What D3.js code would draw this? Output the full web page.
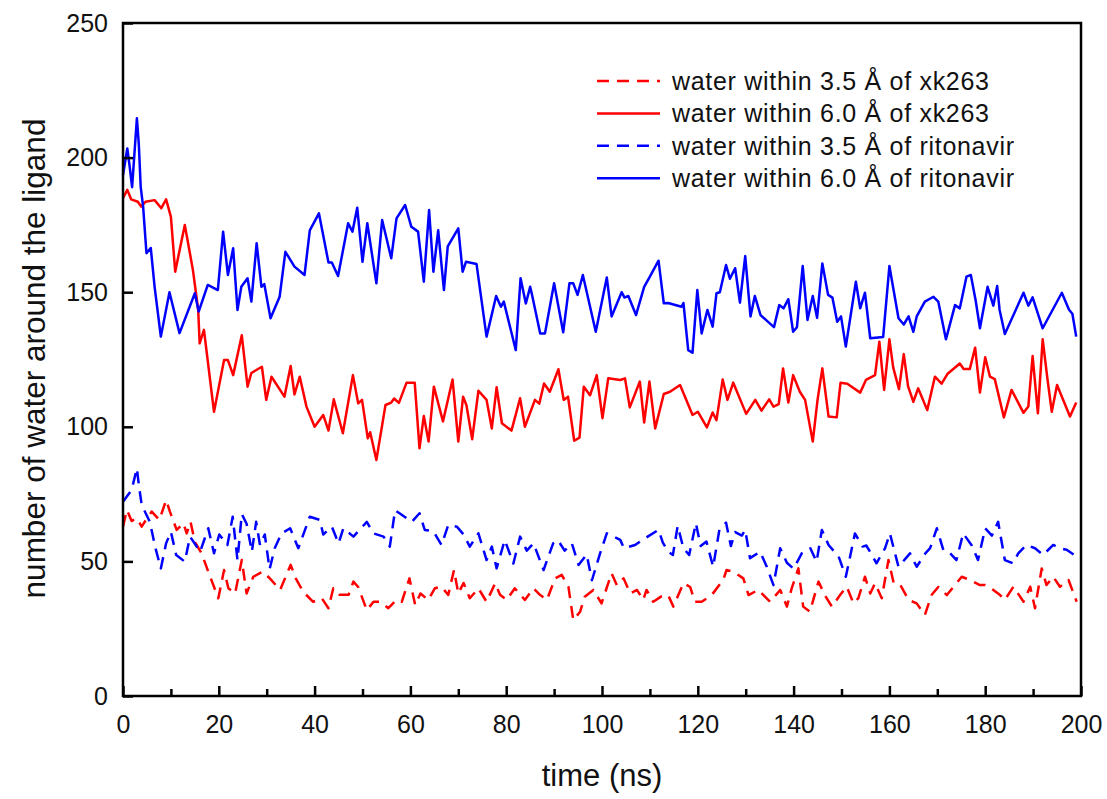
<!DOCTYPE html>
<html>
<head>
<meta charset="utf-8">
<script src="https://cdn.jsdelivr.net/npm/d3@7"></script>
<style>
  html, body { margin: 0; padding: 0; background: #fff; }
  svg { display: block; }
  text { font-family: "Liberation Sans", Arial, sans-serif; fill: #111; }
</style>
</head>
<body>
<svg id="chart" width="1107" height="799"></svg>
<script>
// ---------- data ----------
const xTicks = [0, 20, 40, 60, 80, 100, 120, 140, 160, 180, 200];
const xMinorTicks = [10, 30, 50, 70, 90, 110, 130, 150, 170, 190];
const yTicks = [0, 50, 100, 150, 200, 250];

const seriesNames = [
  "water within 3.5 Å of xk263",
  "water within 6.0 Å of xk263",
  "water within 3.5 Å of ritonavir",
  "water within 6.0 Å of ritonavir"
];

// xk263, 3.5 Å (red dashed)
const xk35Time = [0,0.8,1.8,2.9,3.9,5,6,7.6,9,9.8,11.2,12.6,13.3,14.1,15,16.4,18.2,19.9,21.1,22,23.4,24.8,25.8,27.2,29.2,30.7,32.8,35,36.1,37.6,39.7,41.5,42.9,43.9,45.2,47.1,48.1,49.1,50.9,52.3,53.7,55.4,57.1,58.2,59.8,61,62.1,63.7,65.1,66.5,67.9,69.1,70,71.1,72.4,74.2,75.9,77.7,78.7,80.1,81.8,83.9,85.7,87.1,88.5,90.2,91.6,93,94,95.4,96.4,98.2,99.9,102,103.1,104.5,105.9,107.3,108.6,109.3,110.7,112.4,113.8,114.9,117,118.4,119.4,120.8,122.9,125.3,126,127.4,129.5,130.6,132.6,135.1,137.2,138.6,139.6,141,142,143.4,145.2,146.5,148,149.7,151.1,152.5,153.5,154.9,156,157,158.4,159.8,160.9,162.3,164,165.7,167.4,168.8,170.2,172,173.4,175.1,176.8,178.9,180,181.7,183.1,184.1,185.9,188,189.4,190.4,191.8,192.8,194.2,195.6,197.4,199.1];
const xk35Value = [62.9,69.1,65,66,62.9,66,68.5,65.4,72.8,68.5,61.7,64.2,60.4,64.7,57.3,53,44.3,36.3,46.8,40,38.1,50.5,38.1,44.3,46.2,43.6,39.4,48.7,43.6,38.7,35,36.3,32.6,40,37.6,37.6,42.5,40.5,31.9,35,35,32.6,35.7,35,43.7,33.8,38.1,35.7,40,40.6,37.5,46.8,38.1,42,36.3,40,35,41.9,37.6,35.7,40,35.7,40,37.5,35.7,43.7,45,40.5,28.2,31.2,36.9,39.4,34.4,45.6,41.2,43.7,38.1,39.4,35.7,39.4,35,37,37.5,33.2,41.9,40.5,35,35,37.5,43.1,46.8,46.2,43.7,37.5,39.4,35,39.4,33.2,40,47.4,33.2,31.3,42.5,37.5,33.2,37.5,40.6,34.4,36.3,44.3,38.1,41.9,36.3,50.5,41.9,41.2,35.7,34.4,30.1,37.5,40.5,37.5,40.6,44.3,43.1,41.2,41.2,39.4,37.5,35.7,40.6,35,40.6,32.6,47.4,41.2,44.3,40.6,43.1,35];

// xk263, 6.0 Å (red solid)
const xk60Time = [0,0.9,1.7,3.1,3.8,4.7,6.6,8,9,10,10.9,12.9,14.6,15.7,16,16.9,19,21.1,21.9,23,24.8,26,26.8,29,29.9,31,33.7,35,35.8,36.9,38.3,40,41.8,42.9,44,45.9,48,49.1,49.9,51.1,51.6,52.9,54.8,56,56.6,57.6,59.2,60.9,61.9,62.8,63.8,64.9,66.8,68.8,70,71,71.7,72.9,74.2,75.9,77,78,79.1,81.1,82.9,83.9,86,86.9,87.9,89.1,90.9,92,92.9,94.2,95.3,96.2,97.5,98.9,100.1,101.3,103.8,104.8,105.8,107.9,108.8,109.9,111.1,112.9,114.2,116.3,118.9,120,121.9,123.1,123.9,125.2,126.2,127.4,130.1,132,133.3,134.9,135.8,136.9,137.8,138.9,139.9,141.3,142.4,144,145,146,147.3,149,149.8,151.2,153.9,155.1,157,157.9,158.9,160,160.8,162,163,163.9,165,166,167.9,169.5,170.9,172.1,174.7,175.5,176.8,177.9,178.9,180,181,182,183.9,185.5,188,189,189.9,191,192,193,193.9,195,197.7,199];
const xk60Value = [184.9,188,184.5,183.6,181.8,183.6,184.2,181.2,184.5,178,157.6,175,158.2,143.4,131,136,105.6,124.8,124.8,119.2,134,114.9,120,122.3,110,118.6,111.2,122.6,112,118.6,107.5,100,104.4,98.6,110.2,97.6,119.2,108.7,110,95.7,98,87.7,108.1,109,110.5,108.9,116.4,116.4,92,104,94.5,114.9,102,117.6,94.5,111.2,108,95.4,113.4,110,99.4,114.7,101.3,98.6,110.6,100,110,108.6,116.1,113,121.4,110,111.2,94.8,96,114.9,111.7,119.2,103.2,118,117.4,118,107.2,116.8,101.6,116.8,99.4,112.2,113,115.5,104.4,105.6,99.8,105.3,102.5,117.6,110,116.4,104.8,110,106,110.2,107.5,108.4,121.7,109,119.2,113,110,94.5,110,121.7,103.8,103.5,116.4,116,112.7,117.4,119.2,131.6,113.7,132.5,122,114,127,115,109.3,114.3,106.2,118.6,116,119.6,123.5,121.5,121.5,129.4,112.7,125.8,118.6,117.7,103.5,113.7,105.2,107.5,126.3,105,132.5,117.7,105.6,115.5,103.8,109];

// ritonavir, 3.5 Å (blue dashed)
const rit35Time = [0,1.8,2.9,3.3,3.9,5.6,6.7,7.9,9,10,11.1,12.9,14,15.2,16.1,17.8,19,20.1,21.8,22.9,23.9,24.8,25.8,26.9,27.8,28.6,29.6,30.6,31.7,33.1,34.9,36.6,39,41.1,41.8,43.6,45,46,48.1,50.9,52.3,54.4,55.7,56.8,57.8,60.3,61.9,63,64.8,66.5,67.9,69.7,71.1,72.4,74.2,75.9,77,78,79.7,81.5,82.9,84.3,85.7,87.8,89.8,90.8,92.2,93.7,95.1,96.8,97.9,99.6,101,102.4,103.8,104.6,106.9,109.7,111.8,112.7,113.8,114.8,115.8,117,118.2,119.6,120.6,121.8,123.2,124.5,125.9,126.9,127.8,129.2,129.9,130.9,133,134.4,135.8,137.2,138.6,140,141.7,143.5,144.8,145.9,147.3,149.4,150.9,151.8,152.8,154.4,155.2,157.3,159.1,160.1,161.9,164.3,165.7,167.5,168.5,169.9,171.3,172.7,174,175.4,177.2,178.5,180,181.4,182.7,184.1,185.8,186.9,188.6,190.4,192.1,194.2,195.6,197,199.1];
const rit35Value = [72.2,76.5,84.6,78.5,71,64.7,55.5,47.4,56.7,61,52.4,49.9,59.2,56,53.6,62.3,53,60,56.1,66.6,50.5,67.6,64,53.6,64.7,56,60,47.1,55,60.4,62.3,54.9,66.6,65.4,60,62.9,56.7,62.3,59.2,64.7,60.4,59.2,55.5,69,67.8,64.7,67.9,61.7,61.2,56.1,63.5,62.9,60,55.5,60.4,50.5,55.5,47.4,57.9,49.2,59.2,54,56.7,46.8,56.7,57.9,54,56.7,48.7,52.6,43,53,60.4,59.2,58,54.9,56.1,59.4,61.7,57,53.6,52.4,63.2,54.9,52.4,64.2,55.7,57.4,48,61.7,64.4,55.7,60.9,59.6,61.7,51.2,53.6,48,41.2,54.9,49.5,47.3,53,54.9,49.9,61.7,56.1,51.8,44.3,51.8,60.4,55.5,55.9,49.3,54.9,60.4,48,53,48,53,54.9,62.3,54,53,50.5,60.4,55.9,50.5,62.3,59.6,64.7,50.5,49.3,53,56.1,54.9,52.4,56.1,54.9,54.3,51.8];

// ritonavir, 6.0 Å (blue solid)
const rit60Time = [0,0.9,1.4,1.9,2.9,3.3,3.7,4.2,4.9,5.8,6.6,7.9,9.7,11.8,15,15.8,17.7,19.8,20.9,21.9,23,23.9,24.7,26,26.8,27.9,28.9,29.5,30.8,32.7,33.9,35.8,37.9,39,40.9,42.9,43.6,44.9,47,47.9,48.9,50,51,52.9,54.1,56,57.1,58.9,60.2,61.6,62.8,63.9,64.8,65.8,67,67.8,70,70.9,71.6,73.8,75.9,77.9,78.9,79.5,82,83,84.1,85,85.4,87.1,88.1,90,91.9,93.2,94,94.9,96,98.7,101,102,104.1,104.7,105.5,107.1,108.8,110,111.8,112.9,113.8,116.6,117,118,118.9,119.9,120.8,122,123.1,123.9,124.6,125.9,126.7,127.8,128.8,129.9,131,131.9,133.1,135.9,137,137.9,138.9,139.9,140.7,141.9,142.9,144,144.9,146,147.2,148.1,149.1,149.9,150.9,153,153.9,154.9,156,158.7,160,161.9,163,164,165,165.7,167.4,169.2,170.2,171.8,173.7,174.7,176.1,177,178,178.9,180.5,181.7,182.5,183,184.1,188,189,189.9,192,196,197.5,198.2,199];
const rit60Value = [193.5,203.4,196.6,189,214.6,205,189,181.8,164.5,166.4,152,133.5,150,134.8,149.6,142.8,152.7,150.8,172.5,156.4,166.3,143.4,152,155.2,146.5,168.2,152,153,140.3,148.3,165,159.5,156.4,173,179.3,161,161,156,175.6,172.5,181.4,161.3,175.6,153.3,176.8,162.6,177.4,182.4,174.3,172.5,153.9,180.5,157.6,173,150.8,167,173.7,157.6,161.3,160.5,133.5,148.6,144.6,146.5,128.5,155.2,145.8,152,149,134.7,134.7,153.3,135.1,153.3,153.3,149,156.4,135.3,155.5,141,150,148,148.6,141.5,152,155.8,161.7,145.9,146,144.6,146,128.5,127.5,150.8,134.7,143.4,137.2,149.6,150,160.1,155,158.9,146.1,163.4,141,148.6,141.5,137,145.2,144,147.4,135.3,137,159.7,139.7,148.6,140.5,160.7,149,148,139,141,129.8,153.9,144,149.8,132.9,133.4,159.7,140.3,138,141,135.3,141,146.5,148.3,146.5,132.5,145.2,144,155.8,156.4,147,136.6,152,145,152.3,143.5,134.5,149.8,145,148.1,136.6,149.8,143.5,142,133.5];

const seriesColors = ["#ff0000", "#ff0000", "#0000ff", "#0000ff"];
const seriesDash = ["12,8", null, "12,8", null];
const seriesTimes = [xk35Time, xk60Time, rit35Time, rit60Time];
const seriesValues = [xk35Value, xk60Value, rit35Value, rit60Value];

// ---------- layout ----------
const svg = d3.select("#chart");
const plot = { left: 123, right: 1081, top: 23, bottom: 696 };

const x = d3.scaleLinear().domain([0, 200]).range([plot.left, plot.right]);
const y = d3.scaleLinear().domain([0, 250]).range([plot.bottom, plot.top]);

// series
const line = d3.line().x(d => x(d[0])).y(d => y(d[1]));
const gLines = svg.append("g");
seriesNames.forEach((name, i) => {
  const pts = seriesTimes[i].map((t, k) => [t, seriesValues[i][k]]);
  const p = gLines.append("path")
    .datum(pts)
    .attr("d", line)
    .attr("fill", "none")
    .attr("stroke", seriesColors[i])
    .attr("stroke-width", 2.5)
    .attr("stroke-linejoin", "round");
  if (seriesDash[i]) p.attr("stroke-dasharray", seriesDash[i]);
});

// frame
svg.append("rect")
  .attr("x", plot.left).attr("y", plot.top)
  .attr("width", plot.right - plot.left).attr("height", plot.bottom - plot.top)
  .attr("fill", "none").attr("stroke", "#000").attr("stroke-width", 2.5);

// axes (ticks point inward)
const xAxis = svg.append("g")
  .attr("transform", `translate(0,${plot.bottom})`)
  .call(d3.axisBottom(x).tickValues(xTicks).tickFormat(d3.format("d"))
    .tickSize(-10).tickSizeOuter(0).tickPadding(19));
const xMinor = svg.append("g")
  .attr("transform", `translate(0,${plot.bottom})`)
  .call(d3.axisBottom(x).tickValues(xMinorTicks).tickFormat("")
    .tickSize(-7).tickSizeOuter(0));
const yAxis = svg.append("g")
  .attr("transform", `translate(${plot.left},0)`)
  .call(d3.axisLeft(y).tickValues(yTicks).tickFormat(d3.format("d"))
    .tickSize(-10).tickSizeOuter(0).tickPadding(15));

[xAxis, xMinor, yAxis].forEach(g => {
  g.select(".domain").remove();
  g.selectAll(".tick line").attr("stroke", "#000").attr("stroke-width", 2.5);
  g.selectAll(".tick text")
    .attr("font-family", "'Liberation Sans', Arial, sans-serif")
    .attr("font-size", 25).attr("fill", "#111");
});

// axis titles
svg.append("text")
  .attr("x", (plot.left + plot.right) / 2)
  .attr("y", 786)
  .attr("text-anchor", "middle")
  .attr("font-size", 31)
  .text("time (ns)");

svg.append("text")
  .attr("transform", `translate(45,${(plot.top + plot.bottom) / 2 - 1}) rotate(-90)`)
  .attr("text-anchor", "middle")
  .attr("font-size", 31.5)
  .text("number of water around the ligand");

// legend
const legend = svg.append("g");
seriesNames.forEach((name, i) => {
  const yy = 81 + i * 32.4;
  const l = legend.append("line")
    .attr("x1", 597).attr("x2", 660).attr("y1", yy).attr("y2", yy)
    .attr("stroke", seriesColors[i]).attr("stroke-width", 2.5);
  if (seriesDash[i]) l.attr("stroke-dasharray", "12,8");
  legend.append("text")
    .attr("x", 672).attr("y", yy)
    .attr("dy", "0.35em")
    .attr("font-size", 25)
    .attr("letter-spacing", 0.7)
    .text(name);
});
</script>
</body>
</html>
